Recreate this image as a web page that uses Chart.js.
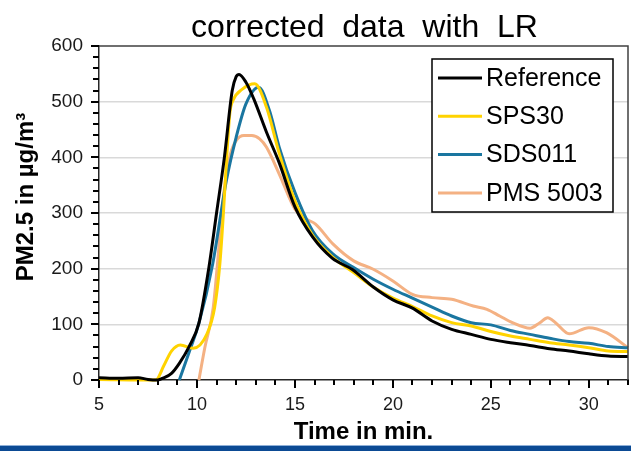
<!DOCTYPE html>
<html>
<head>
<meta charset="utf-8">
<script src="https://cdn.jsdelivr.net/npm/chart.js@4/dist/chart.umd.min.js"></script>
<style>
  html, body { margin:0; padding:0; background:#fff; }
  #wrap { position:relative; width:631px; height:451px; }
</style>
</head>
<body>
<div id="wrap"><canvas id="c" width="631" height="451"></canvas></div>
<script>
// ─── Data ───────────────────────────────────────────────────────────────────
const seriesNames = ['Reference', 'SPS30', 'SDS011', 'PMS 5003'];

const refTime = [5, 6, 7, 7.5, 8, 8.3, 8.7, 9.1, 9.6, 10.1, 10.6, 11.0, 11.4, 11.8, 12.0, 12.15, 12.5, 12.9, 13.55, 14.2, 15.0, 15.9, 16.9, 17.95, 19.0, 20.0, 21.0, 22.0, 23.0, 24.0, 25.0, 26.0, 27.0, 28.0, 29.0, 30.0, 31.0, 32.0];
const refVal  = [4, 3, 4, 1, 0, 4, 12, 30, 60, 102, 200, 300, 400, 520, 545, 549, 535, 505, 445, 390, 311, 257, 219, 198, 167, 144, 129, 106, 91, 82, 73, 67, 62, 56, 52, 47, 43, 42];

const spsTime = [5, 7.9, 8.3, 8.7, 9.15, 9.8, 10.5, 10.9, 11.17, 11.35, 11.5, 11.68, 11.85, 12.3, 12.95, 13.55, 14.2, 15.0, 15.9, 16.95, 18.0, 19.0, 20.0, 21.0, 22.0, 23.0, 24.0, 25.0, 26.0, 27.0, 28.0, 29.0, 30.0, 31.0, 32.0];
const spsVal  = [1, 0, 25, 52, 63, 57, 82, 130, 209, 300, 390, 480, 503, 522, 532, 490, 407, 322, 260, 220, 193, 167, 147, 132, 115, 103, 97, 87, 79, 73, 67, 63, 58, 52, 51];

const sdsTime = [9.1, 9.6, 10.1, 10.8, 11.5, 12.0, 12.5, 13.15, 13.7, 14.2, 15.0, 15.9, 16.95, 18.0, 19.0, 20.0, 21.0, 22.0, 23.0, 24.0, 25.0, 26.0, 27.0, 28.0, 29.0, 30.0, 31.0, 32.0];
const sdsVal  = [0, 50, 102, 208, 358, 436, 496, 526, 484, 418, 337, 268, 226, 202, 181, 163, 147, 131, 115, 103, 99, 89, 82, 75, 69, 66, 60, 58];

const pmsTime = [10.1, 10.4, 10.83, 11.05, 11.26, 11.5, 11.7, 12.0, 12.4, 12.8, 13.2, 13.55, 14.2, 15.0, 15.6, 16.05, 16.95, 18.0, 19.0, 20.0, 21.0, 22.0, 23.0, 24.1, 24.8, 25.45, 26.1, 27.0, 27.5, 27.9, 28.3, 29.0, 30.0, 30.9, 32.0];
const pmsVal  = [0, 58, 130, 210, 298, 370, 405, 430, 439, 439, 433, 418, 370, 307, 289, 280, 244, 214, 199, 178, 154, 148, 145, 133, 127, 115, 103, 93, 103, 112, 103, 83, 94, 85, 58];

const xMin = 5, xMax = 32, xStep = 5;
const yMin = 0, yMax = 600, yStep = 100;

// ─── Styling ────────────────────────────────────────────────────────────────
const COL = { ref:'#000000', sps:'#FFD300', sds:'#1A76A0', pms:'#F4B183', txt:'#1a1a1a', grid:'#d9d9d9', axis:'#262626' };
const FAM = "'Liberation Sans', Arial, sans-serif";

function pts(t, v) { return t.map((x, i) => ({ x, y: v[i] })); }
function ds(label, t, v, color) {
  return { label, data: pts(t, v), borderColor: color, backgroundColor: color, borderWidth: 3,
           pointRadius: 0, cubicInterpolationMode: 'monotone', fill: false, clip: 2 };
}

// ─── Extras: title, frame, minor ticks, legend box, y title, footer band ───
const extras = {
  id: 'extras',
  afterDraw(chart) {
    const { ctx, chartArea: a, scales: { x, y } } = chart;
    ctx.save();

    // frame top/right
    ctx.strokeStyle = '#404040'; ctx.lineWidth = 1.5;
    ctx.beginPath();
    ctx.moveTo(a.left, a.top); ctx.lineTo(a.right, a.top); ctx.lineTo(a.right, a.bottom);
    ctx.stroke();

    // tick marks
    ctx.strokeStyle = '#000'; ctx.lineWidth = 2;
    ctx.beginPath();
    for (let v = yMin; v <= yMax; v += 20) {
      const py = Math.round(y.getPixelForValue(v));
      ctx.moveTo(a.left - (v % yStep === 0 ? 8 : 6), py); ctx.lineTo(a.left, py);
    }
    for (let t = xMin; t <= xMax; t += 1) {
      const px = Math.round(x.getPixelForValue(t));
      ctx.moveTo(px, a.bottom); ctx.lineTo(px, a.bottom + (t % xStep === 0 ? 8 : 5));
    }
    ctx.stroke();

    // chart title
    ctx.fillStyle = '#000';
    ctx.font = '32px ' + FAM;
    ctx.textAlign = 'center'; ctx.textBaseline = 'alphabetic';
    ctx.fillText('corrected  data  with  LR', (a.left + a.right) / 2 + 1, 37);

    // y-axis title
    ctx.save();
    ctx.translate(33, 197);
    ctx.rotate(-Math.PI / 2);
    ctx.font = 'bold 24px ' + FAM;
    ctx.textAlign = 'center'; ctx.textBaseline = 'alphabetic';
    ctx.fillText('PM2.5 in µg/m³', 0, 0);
    ctx.restore();

    // legend box
    const L = { x: 432, y: 59, w: 181, h: 153 };
    ctx.fillStyle = '#fff';
    ctx.fillRect(L.x, L.y, L.w, L.h);
    ctx.strokeStyle = '#000'; ctx.lineWidth = 1.5;
    ctx.strokeRect(L.x, L.y, L.w, L.h);
    ctx.font = '25px ' + FAM;
    ctx.textAlign = 'left'; ctx.textBaseline = 'middle';
    chart.data.datasets.forEach((d, i) => {
      const ry = 78 + i * 38.3;
      ctx.strokeStyle = d.borderColor; ctx.lineWidth = 3;
      ctx.beginPath(); ctx.moveTo(438, ry); ctx.lineTo(482, ry); ctx.stroke();
      ctx.fillStyle = '#000';
      ctx.fillText(d.label, 486, ry + 1);
    });

    // footer band
    ctx.fillStyle = '#0b4a94';
    ctx.fillRect(0, 446, chart.width, chart.height - 446);
    ctx.fillStyle = '#8fb0d8';
    ctx.fillRect(0, 445, chart.width, 1);
    ctx.restore();
  }
};

new Chart(document.getElementById('c').getContext('2d'), {
  type: 'line',
  data: {
    datasets: [
      ds(seriesNames[0], refTime, refVal, COL.ref),
      ds(seriesNames[1], spsTime, spsVal, COL.sps),
      ds(seriesNames[2], sdsTime, sdsVal, COL.sds),
      ds(seriesNames[3], pmsTime, pmsVal, COL.pms)
    ]
  },
  options: {
    responsive: false,
    animation: false,
    layout: { padding: { left: 0, right: 3, top: 46, bottom: 0 } },
    plugins: { legend: { display: false }, title: { display: false }, tooltip: { enabled: false } },
    scales: {
      x: {
        type: 'linear', min: xMin, max: xMax,
        afterFit(s) { s.height = 71; },
        grid: { display: false, drawTicks: false },
        border: { display: true, color: COL.axis, width: 1.5 },
        ticks: { stepSize: xStep, includeBounds: false, padding: 14, color: COL.txt, font: { family: FAM, size: 18 } },
        title: { display: true, text: 'Time in min.', color: '#000', padding: { top: 0, bottom: 4 },
                 font: { family: FAM, size: 24, weight: 'bold' } }
      },
      y: {
        type: 'linear', min: yMin, max: yMax,
        afterFit(s) { s.width = 99; },
        grid: {
          drawTicks: false, lineWidth: 1.5,
          color: c => (c.tick && (c.tick.value === yMin || c.tick.value === yMax)) ? 'rgba(0,0,0,0)' : COL.grid
        },
        border: { display: true, color: COL.axis, width: 1.5 },
        ticks: { stepSize: yStep, padding: 16, color: COL.txt, font: { family: FAM, size: 19 } }
      }
    }
  },
  plugins: [extras]
});
</script>
</body>
</html>
